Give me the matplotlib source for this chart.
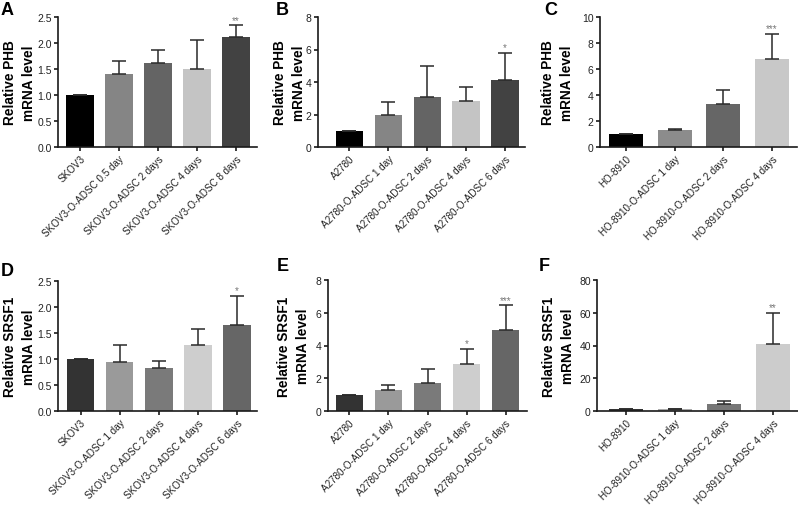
import matplotlib
matplotlib.use("Agg")
import matplotlib.pyplot as plt
import matplotlib.transforms as mtransforms

plt.rcParams['font.family'] = ['Liberation Sans', 'DejaVu Sans']

# ---- data ----
a_labels = ["SKOV3", "SKOV3-O-ADSC 0.5 day", "SKOV3-O-ADSC 2 days", "SKOV3-O-ADSC 4 days", "SKOV3-O-ADSC 8 days"]
a_means = [1.0, 1.40, 1.62, 1.50, 2.12]
a_errs = [0.0, 0.25, 0.25, 0.55, 0.22]
a_stars = ["", "", "", "", "**"]

b_labels = ["A2780", "A2780-O-ADSC 1 day", "A2780-O-ADSC 2 days", "A2780-O-ADSC 4 days", "A2780-O-ADSC 6 days"]
b_means = [1.0, 2.0, 3.1, 2.85, 4.1]
b_errs = [0.0, 0.8, 1.9, 0.85, 1.7]
b_stars = ["", "", "", "", "*"]

c_labels = ["HO-8910", "HO-8910-O-ADSC 1 day", "HO-8910-O-ADSC 2 days", "HO-8910-O-ADSC 4 days"]
c_means = [1.0, 1.28, 3.28, 6.8]
c_errs = [0.0, 0.12, 1.07, 1.92]
c_stars = ["", "", "", "***"]

d_labels = ["SKOV3", "SKOV3-O-ADSC 1 day", "SKOV3-O-ADSC 2 days", "SKOV3-O-ADSC 4 days", "SKOV3-O-ADSC 6 days"]
d_means = [1.0, 0.95, 0.83, 1.27, 1.65]
d_errs = [0.0, 0.32, 0.13, 0.31, 0.57]
d_stars = ["", "", "", "", "*"]

e_labels = ["A2780", "A2780-O-ADSC 1 day", "A2780-O-ADSC 2 days", "A2780-O-ADSC 4 days", "A2780-O-ADSC 6 days"]
e_means = [1.0, 1.28, 1.72, 2.85, 4.95]
e_errs = [0.0, 0.30, 0.83, 0.95, 1.50]
e_stars = ["", "", "", "*", "***"]

f_labels = ["HO-8910", "HO-8910-O-ADSC 1 day", "HO-8910-O-ADSC 2 days", "HO-8910-O-ADSC 4 days"]
f_means = [1.0, 1.2, 4.0, 40.7]
f_errs = [0.0, 0.2, 2.0, 19.3]
f_stars = ["", "", "", "**"]

# ---- styling ----
col_top5 = ["#000000", "#858585", "#646464", "#c4c4c4", "#424242"]
col_top4 = ["#000000", "#8c8c8c", "#666666", "#c8c8c8"]
col_bot5 = ["#333333", "#9a9a9a", "#7a7a7a", "#cecece", "#666666"]
col_bot4 = ["#333333", "#aaaaaa", "#777777", "#cccccc"]

W, H = 798, 506
DPI = 100
fig = plt.figure(figsize=(W / DPI, H / DPI), dpi=DPI)


def px_axes(l, t, r, b):
    return fig.add_axes([l / W, 1 - b / H, (r - l) / W, (b - t) / H])


panels = [
    dict(box=(58, 18, 257, 148), labels=a_labels, means=a_means, errs=a_errs, stars=a_stars,
         colors=col_top5, ylim=(0, 2.5), yticks=[0, 0.5, 1.0, 1.5, 2.0, 2.5], fmt="{:.1f}",
         xlim=(-0.56, 4.54), ylabel="Relative PHB\nmRNA level", letter="A", lpos=(1, 2), lab_dx=-22),
    dict(box=(318, 18, 525, 148), labels=b_labels, means=b_means, errs=b_errs, stars=b_stars,
         colors=col_top5, ylim=(0, 8), yticks=[0, 2, 4, 6, 8], fmt="{:.0f}",
         xlim=(-0.8, 4.51), ylabel="Relative PHB\nmRNA level", letter="B", lpos=(276, 2), lab_dx=-12),
    dict(box=(600, 18, 797, 148), labels=c_labels, means=c_means, errs=c_errs, stars=c_stars,
         colors=col_top4, ylim=(0, 10), yticks=[0, 2, 4, 6, 8, 10], fmt="{:.0f}",
         xlim=(-0.53, 3.51), ylabel="Relative PHB\nmRNA level", letter="C", lpos=(544, 2), lab_dx=-26),
    dict(box=(58, 282, 257, 412), labels=d_labels, means=d_means, errs=d_errs, stars=d_stars,
         colors=col_bot5, ylim=(0, 2.5), yticks=[0, 0.5, 1.0, 1.5, 2.0, 2.5], fmt="{:.1f}",
         xlim=(-0.58, 4.51), ylabel="Relative SRSF1\nmRNA level", letter="D", lpos=(1, 263), lab_dx=-22),
    dict(box=(328, 281, 527, 412), labels=e_labels, means=e_means, errs=e_errs, stars=e_stars,
         colors=col_bot5, ylim=(0, 8), yticks=[0, 2, 4, 6, 8], fmt="{:.0f}",
         xlim=(-0.55, 4.55), ylabel="Relative SRSF1\nmRNA level", letter="E", lpos=(277, 258), lab_dx=-18),
    dict(box=(597, 281, 798, 412), labels=f_labels, means=f_means, errs=f_errs, stars=f_stars,
         colors=col_bot4, ylim=(0, 80), yticks=[0, 20, 40, 60, 80], fmt="{:.0f}",
         xlim=(-0.59, 3.51), ylabel="Relative SRSF1\nmRNA level", letter="F", lpos=(539, 258), lab_dx=-22),
]

shift = mtransforms.ScaledTranslation(4 / DPI, 3 / DPI, fig.dpi_scale_trans)

for p in panels:
    ax = px_axes(*p["box"])
    n = len(p["means"])
    x = list(range(n))
    ax.bar(x, p["means"], width=0.7, color=p["colors"], edgecolor="none", zorder=2)
    errs_low = [0] * n
    ax.errorbar(x, p["means"], yerr=[errs_low, p["errs"]], fmt="none", ecolor="#2a2a2a",
                elinewidth=1.1, capsize=5, capthick=1.1, zorder=3)
    yr = p["ylim"][1] - p["ylim"][0]
    for xi, m, e, s in zip(x, p["means"], p["errs"], p["stars"]):
        if s:
            ax.text(xi, m + e + 0.005 * yr, s, ha="center", va="bottom", fontsize=7,
                    color="#777777", zorder=4)
    ax.set_xlim(*p["xlim"])
    ax.set_ylim(*p["ylim"])
    ax.set_yticks(p["yticks"])
    ax.set_yticklabels([p["fmt"].format(v) for v in p["yticks"]], fontsize=7.5, color="#222222")
    ax.set_xticks(x)
    ax.set_xticklabels(p["labels"], rotation=45, ha="right", rotation_mode="anchor",
                       fontsize=7.1, color="#222222")
    for lab in ax.get_xticklabels():
        lab.set_transform(lab.get_transform() + shift)
    for sp in ("top", "right"):
        ax.spines[sp].set_visible(False)
    for sp in ("left", "bottom"):
        ax.spines[sp].set_linewidth(1.2)
        ax.spines[sp].set_color("#1a1a1a")
    ax.tick_params(axis="both", direction="out", length=3, width=1.2, color="#1a1a1a", pad=1.5)
    ax.set_ylabel(p["ylabel"], fontsize=9.8, fontweight="bold", linespacing=1.45)
    width_px = p["box"][2] - p["box"][0]
    ax.yaxis.set_label_coords(p["lab_dx"] / width_px, 0.5)
    fig.text(p["lpos"][0] / W, 1 - p["lpos"][1] / H, p["letter"], fontsize=13,
             fontweight="bold", ha="left", va="top")

fig.savefig("out.png", dpi=DPI)
